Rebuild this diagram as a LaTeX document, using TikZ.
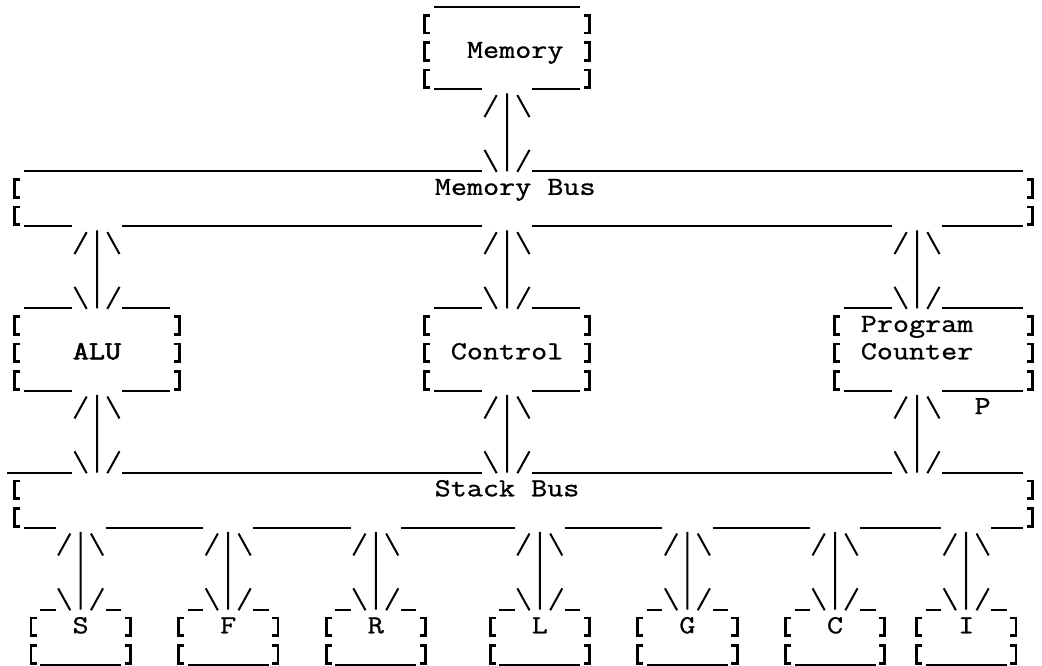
\documentclass[tikz,border=0pt]{standalone}
\usepackage{fontspec}
\newfontfamily\typefont[FakeStretch=1.2,FakeBold=1]{Latin Modern Mono}
\newfontfamily\typebold[FakeStretch=1.2,FakeBold=2.5]{Latin Modern Mono}
\begin{document}
\begin{tikzpicture}[x=8.2pt, y=-13.7pt, line width=1pt,
  boxframe/.style 2 args={minimum width=#1*8.2pt, minimum height=#2*13.7pt, inner sep=0pt, outer sep=0pt},
  lbl/.style={font=\typefont\fontsize{13}{13.7}\selectfont, inner sep=0pt, anchor=base, align=center},
  lbr/.pic={\draw[line width=1.4pt] (0.32,-0.36) -- (-0.03,-0.36) -- (-0.03,0.29) -- (0.32,0.29);},
  rbr/.pic={\draw[line width=1.4pt] (-0.32,-0.36) -- (0.03,-0.36) -- (0.03,0.29) -- (-0.32,0.29);},
  link/.style={to path={(\tikztostart) ++(0,0.16) -- (\tikztotarget)
    (\tikztostart) ++(-1.37,1.02) -- ++(0.74,-0.8)
    (\tikztostart) ++(1.37,1.02) -- ++(-0.74,-0.8)
    (\tikztotarget) ++(-1.37,-0.78) -- ++(0.74,0.8)
    (\tikztotarget) ++(1.37,-0.78) -- ++(-0.74,0.8)}}]
\useasboundingbox (-0.915,0.088) rectangle (62.62,24.36);

\node[boxframe={10}{3}] (mem) at (30,1.84) {};
\node[lbl] (mem-t) at (30.5,2.2) {Memory};
\draw (25.53,0.34) -- (34.47,0.34);
\draw (25.53,3.34) -- (28.47,3.34) (31.53,3.34) -- (34.47,3.34);
\foreach \r in {1,2,3} {\pic at (25,\r) {lbr}; \pic at (35,\r) {rbr};}

\node[boxframe={62}{2}] (mbus) at (31,7.34) {};
\node[lbl] (mbus-t) at (30.5,7.2) {Memory Bus};
\draw (0.53,6.34) -- (28.47,6.34) (31.53,6.34) -- (61.47,6.34);
\draw (0.53,8.34) -- (3.47,8.34) (6.53,8.34) -- (28.47,8.34) (31.53,8.34) -- (53.47,8.34) (56.53,8.34) -- (61.47,8.34);
\foreach \r in {7,8} {\pic at (0,\r) {lbr}; \pic at (62,\r) {rbr};}

\node[boxframe={10}{3}] (alu) at (5,12.84) {};
\node[boxframe={10}{3}] (ctl) at (30,12.84) {};
\node[boxframe={12}{3}] (pcbox) at (56,12.84) {};
\node[lbl, font=\typebold\fontsize{13}{13.7}\selectfont] (alu-t) at (5,13.2) {ALU};
\node[lbl] (ctl-t) at (30,13.2) {Control};
\node[lbl] (pc) at (55,13.2) {Program\\Counter};
\node[lbl] (p) at (59,15.2) {P};
\foreach \y in {11.34,14.34} {
  \draw (0.53,\y) -- (3.47,\y) (6.53,\y) -- (9.47,\y);
  \draw (25.53,\y) -- (28.47,\y) (31.53,\y) -- (34.47,\y);
  \draw (50.53,\y) -- (53.47,\y) (56.53,\y) -- (61.47,\y);
}
\foreach \r in {12,13,14} {
  \pic at (0,\r) {lbr}; \pic at (10,\r) {rbr};
  \pic at (25,\r) {lbr}; \pic at (35,\r) {rbr};
  \pic at (50,\r) {lbr}; \pic at (62,\r) {rbr};
}

\node[boxframe={62}{2}] (sbus) at (31,18.34) {};
\node[lbl] (sbus-t) at (30,18.2) {Stack Bus};
\draw (-0.47,17.34) -- (3.47,17.34) (6.53,17.34) -- (28.47,17.34) (31.53,17.34) -- (53.47,17.34) (56.53,17.34) -- (61.47,17.34);
\draw (0.53,19.34) -- (2.47,19.34) (5.53,19.34) -- (11.47,19.34) (14.53,19.34) -- (20.47,19.34) (23.53,19.34) -- (30.47,19.34)
  (33.53,19.34) -- (39.47,19.34) (42.53,19.34) -- (48.47,19.34) (51.53,19.34) -- (56.47,19.34) (59.53,19.34) -- (61.47,19.34);
\foreach \r in {18,19} {\pic at (0,\r) {lbr}; \pic at (62,\r) {rbr};}

\draw[link] (mem.south) to (mem.south |- mbus.north);
\draw[link] (alu.north |- mbus.south) to (alu.north);
\draw[link] (ctl.north |- mbus.south) to (ctl.north);
\draw[link] (pc |- mbus.south) to (pc |- pcbox.north);
\draw[link] (alu.south) to (alu.south |- sbus.north);
\draw[link] (ctl.south) to (ctl.south |- sbus.north);
\draw[link] (pc |- pcbox.south) to (pc |- sbus.north);

\foreach \n/\t/\c in {s/S/4, f/F/13, r/R/22, l/L/32, g/G/41, c/C/50, i/I/58} {
  \node[boxframe={6}{2}] (\n) at (\c,23.34) {};
  \node[lbl] (\n-t) at (\c,23.2) {\t};
  \draw (\c-2.47,22.34) -- (\c-1.53,22.34) (\c+1.53,22.34) -- (\c+2.47,22.34);
  \draw (\c-2.47,24.34) -- (\c+2.47,24.34);
  \pic at (\c-3,23) {lbr}; \pic at (\c+3,23) {rbr};
  \pic at (\c-3,24) {lbr}; \pic at (\c+3,24) {rbr};
  \draw[link] (\n.north |- sbus.south) to (\n.north);
}
\end{tikzpicture}
\end{document}
